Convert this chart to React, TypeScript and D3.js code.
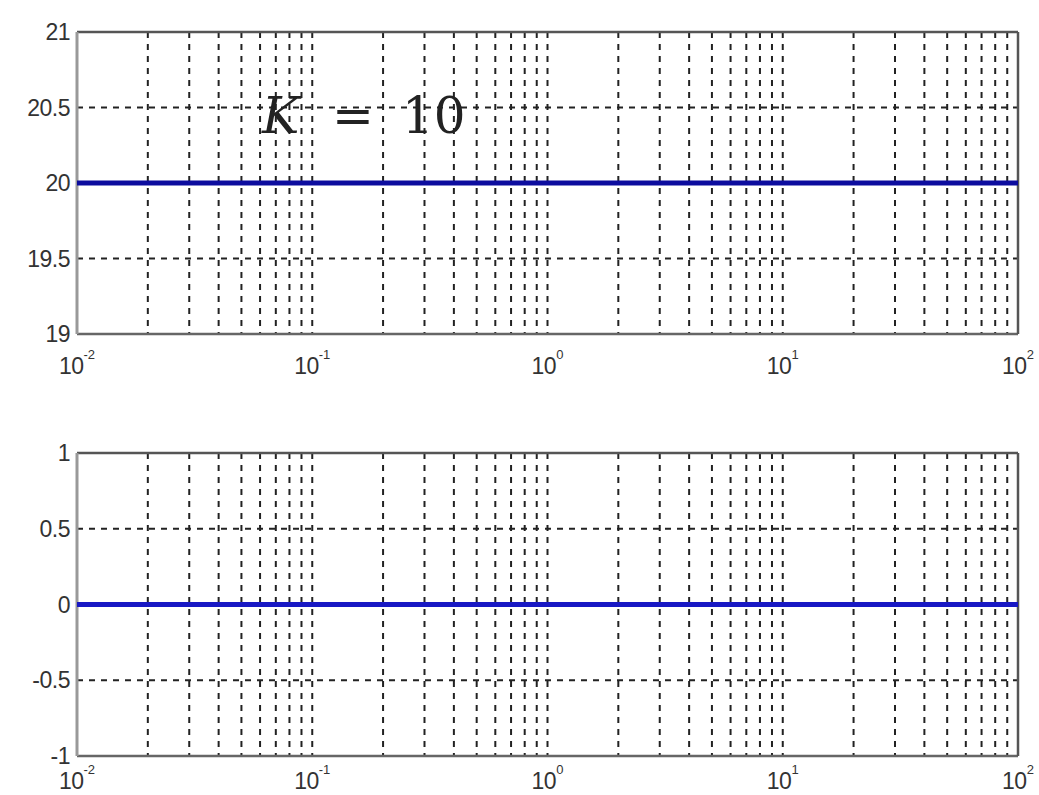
import React, { useEffect, useRef } from 'react';
import * as d3 from 'd3';

// frequency response for K = 10 (flat gain, zero phase)
const freqs = [0.01, 0.1, 1, 10, 100];
const magnitude = [20, 20, 20, 20, 20];
const phase = [0, 0, 0, 0, 0];
const magTicks = [19, 19.5, 20, 20.5, 21];
const phaseTicks = [-1, -0.5, 0, 0.5, 1];
const decadeExps = [-2, -1, 0, 1, 2];

const W = 1039;
const H = 795;
const left = 77;
const right = 1018;

/* draws one MATLAB-like log-x subplot into group g */
function drawPanel(g, top, bottom, yDomain, yTicks, values, color, labelGap) {
  const x = d3.scaleLog().domain([0.01, 100]).range([left, right]);
  const y = d3.scaleLinear().domain(yDomain).range([bottom, top]);

  // minor + major vertical grid lines
  const gridX = [];
  decadeExps.slice(0, -1).forEach(e => {
    for (let m = 1; m < 10; m++) gridX.push(m * Math.pow(10, e));
  });
  g.append('g').selectAll('line').data(gridX.filter(v => v > 0.01 && v < 100)).enter()
    .append('line')
    .attr('x1', d => x(d)).attr('x2', d => x(d))
    .attr('y1', top).attr('y2', bottom)
    .attr('stroke', '#222').attr('stroke-width', 2)
    .attr('stroke-dasharray', '6,6');

  g.append('g').selectAll('line').data(yTicks.slice(1, -1)).enter()
    .append('line')
    .attr('x1', left).attr('x2', right)
    .attr('y1', d => y(d)).attr('y2', d => y(d))
    .attr('stroke', '#222').attr('stroke-width', 2)
    .attr('stroke-dasharray', '6,6');

  // frame
  g.append('line').attr('x1', left).attr('x2', right).attr('y1', top).attr('y2', top)
    .attr('stroke', '#555').attr('stroke-width', 2.5);
  g.append('line').attr('x1', left).attr('x2', right).attr('y1', bottom).attr('y2', bottom)
    .attr('stroke', '#666').attr('stroke-width', 2.5);
  g.append('line').attr('x1', left).attr('x2', left).attr('y1', top).attr('y2', bottom)
    .attr('stroke', '#999').attr('stroke-width', 3);
  g.append('line').attr('x1', right).attr('x2', right).attr('y1', top).attr('y2', bottom)
    .attr('stroke', '#555').attr('stroke-width', 2.5);

  // y tick labels
  g.append('g').selectAll('text').data(yTicks).enter()
    .append('text')
    .attr('x', left - 7).attr('y', d => y(d) + 8)
    .attr('text-anchor', 'end')
    .attr('font-family', 'Liberation Sans, Arial, sans-serif')
    .attr('font-size', 23)
    .attr('letter-spacing', -0.5)
    .attr('fill', '#333')
    .text(d => String(d));

  // x tick labels 10^k
  const xl = g.append('g').selectAll('text').data(decadeExps).enter()
    .append('text')
    .attr('x', d => x(Math.pow(10, d)))
    .attr('y', bottom + labelGap)
    .attr('text-anchor', 'middle')
    .attr('font-family', 'Liberation Sans, Arial, sans-serif')
    .attr('fill', '#333');
  xl.append('tspan').attr('font-size', 23).attr('letter-spacing', -0.5).text('10');
  xl.append('tspan').attr('font-size', 13).attr('dy', -15).text(d => String(d));

  // response line
  const line = d3.line().x((d, i) => x(freqs[i])).y(d => y(d));
  g.append('path').datum(values)
    .attr('d', line)
    .attr('fill', 'none')
    .attr('stroke', color)
    .attr('stroke-width', 5);
}

export default function App() {
  const ref = useRef(null);
  useEffect(() => {
    const svg = d3.select(ref.current);
    svg.selectAll('*').remove();
    drawPanel(svg.append('g'), 32, 334, [19, 21], magTicks, magnitude, '#0c0c9e', 40);
    drawPanel(svg.append('g'), 453, 756, [-1, 1], phaseTicks, phase, '#1818c4', 33);

    const t = svg.append('text')
      .attr('y', 133)
      .attr('font-family', 'DejaVu Serif, serif')
      .attr('font-size', 50)
      .attr('fill', '#222');
    t.append('tspan').attr('x', 262).attr('font-style', 'italic').text('K');
    t.append('tspan').attr('x', 332).text('=');
    t.append('tspan').attr('x', 402).text('10');
  }, []);
  return (
    <svg ref={ref} width={W} height={H}
      style={{ position: 'absolute', left: 0, top: 0, background: '#fff' }} />
  );
}
